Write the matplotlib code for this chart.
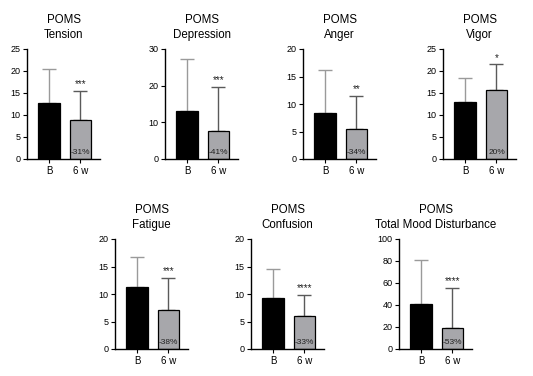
import matplotlib
matplotlib.use("Agg")
import matplotlib.pyplot as plt

plt.rcParams['font.family'] = ['Liberation Sans', 'DejaVu Sans']

titles = ["POMS\nTension", "POMS\nDepression", "POMS\nAnger", "POMS\nVigor",
          "POMS\nFatigue", "POMS\nConfusion", "POMS\nTotal Mood Disturbance"]
categories = ["B", "6 w"]
means_B = [12.7, 13.1, 8.3, 12.9, 11.3, 9.2, 41.2]
sd_B = [7.8, 14.1, 7.8, 5.4, 5.5, 5.3, 40.0]
means_6w = [8.8, 7.7, 5.4, 15.6, 7.1, 6.0, 19.4]
sd_6w = [6.7, 12.0, 6.1, 5.9, 5.9, 3.9, 36.3]
stars = ["***", "***", "**", "*", "***", "****", "****"]
pct = ["-31%", "-41%", "-34%", "20%", "-38%", "-33%", "-53%"]
ymax = [25, 30, 20, 25, 20, 20, 100]
ystep = [5, 10, 5, 5, 5, 5, 20]

W, H = 533, 376
fig = plt.figure(figsize=(W / 100, H / 100), dpi=100)

# axes left edges (px) and top (px)
lefts = [27, 165, 303, 443, 115, 251, 399]
tops = [49, 49, 49, 49, 239, 239, 239]
aw, ah = 73, 110

for i in range(7):
    ax = fig.add_axes([lefts[i] / W, (H - tops[i] - ah) / H, aw / W, ah / H])
    x = [0, 1]
    ax.bar(x, [means_B[i], means_6w[i]], width=0.67,
           color=["black", "#A7A7AB"], edgecolor="black", linewidth=0.9, zorder=2)
    ax.errorbar([0], [means_B[i]], yerr=[[0], [sd_B[i]]], fmt="none",
                ecolor="#9A9A9A", elinewidth=1.0, capsize=5, capthick=1.0, zorder=1)
    ax.errorbar([1], [means_6w[i]], yerr=[[0], [sd_6w[i]]], fmt="none",
                ecolor="#5A5A5A", elinewidth=1.0, capsize=5, capthick=1.0, zorder=1)
    top6 = means_6w[i] + sd_6w[i]
    ax.text(1, top6 + ymax[i] * 0.012, stars[i], ha="center", va="bottom",
            fontsize=7, color="#222222")
    ax.text(1, ymax[i] * 0.03, pct[i], ha="center", va="bottom",
            fontsize=6, color="#222222", zorder=3)
    ax.set_xlim(-0.7, 1.62)
    ax.set_ylim(0, ymax[i])
    ax.set_yticks(range(0, ymax[i] + 1, ystep[i]))
    ax.set_xticks(x)
    ax.set_xticklabels(categories)
    for s in ["top", "right"]:
        ax.spines[s].set_visible(False)
    for s in ["left", "bottom"]:
        ax.spines[s].set_linewidth(1.0)
    ax.tick_params(axis="y", labelsize=6.5, length=3, width=0.8, pad=1.5)
    ax.tick_params(axis="x", labelsize=7, length=3, width=0.8, pad=2)
    ax.set_title(titles[i], fontsize=8.3, pad=8, linespacing=1.3)

fig.savefig("out.png", dpi=100)
